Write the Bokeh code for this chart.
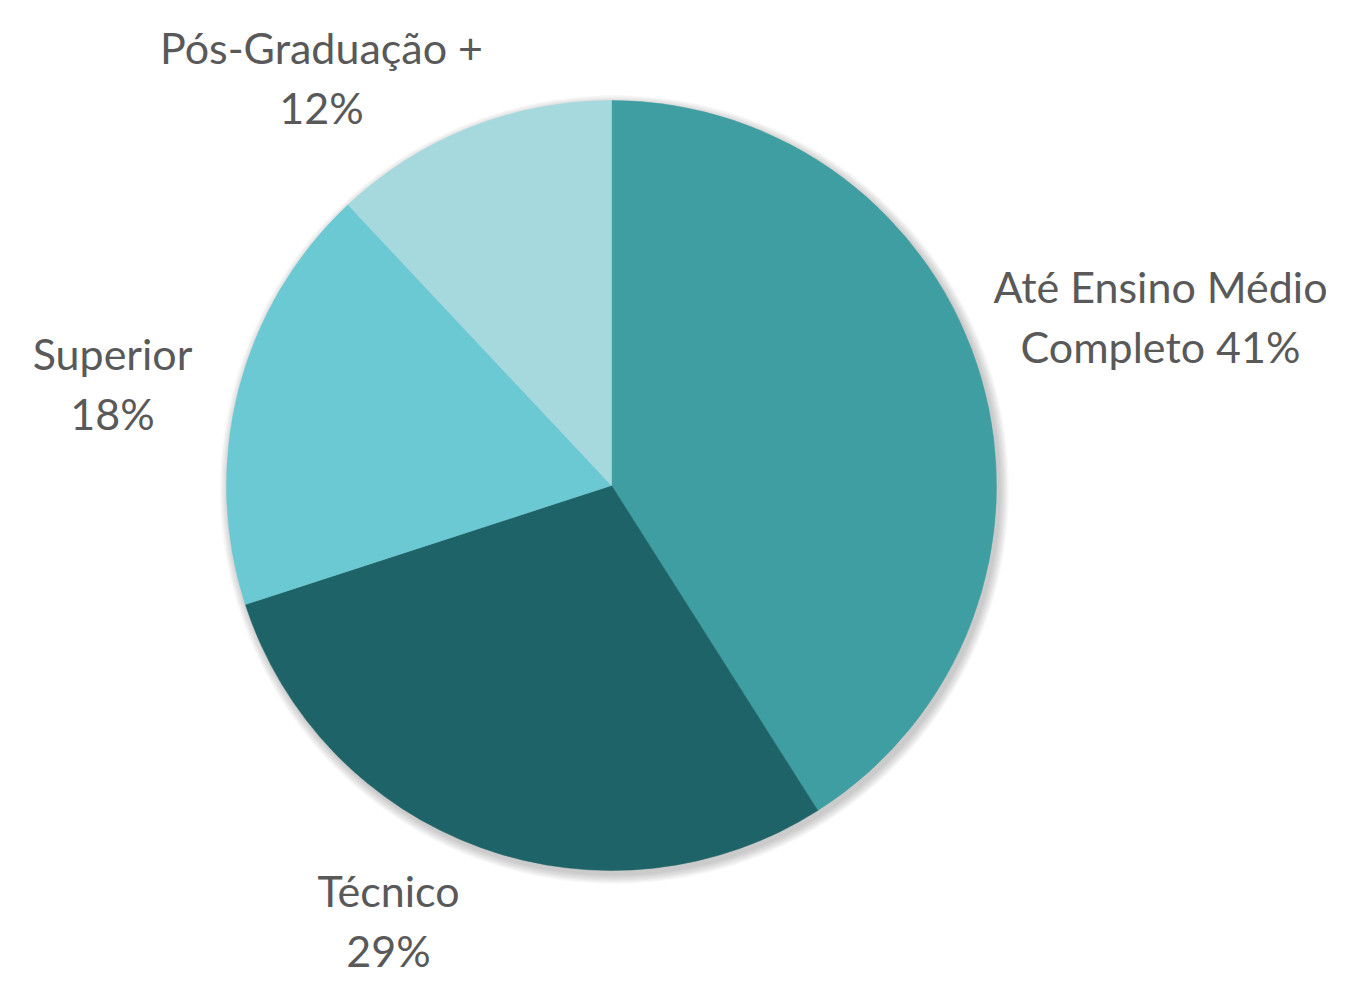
import math
from bokeh.plotting import figure
from bokeh.models import Range1d, ColumnDataSource
from bokeh.core.properties import value
from bokeh.embed import file_html
from bokeh.resources import INLINE

# ---- data ----
categories = ["Até Ensino Médio\nCompleto", "Técnico", "Superior", "Pós-Graduação +"]
percents = [41, 29, 18, 12]
colors = ["#3E9EA2", "#1E6367", "#6BC9D3", "#A5D9DE"]

# ---- layout (pixel coords, y downward) ----
W, H = 1332, 977
cx, cy_px, R = 611, 485, 385
label_px = [(1160, 316), (388, 920), (112, 383), (321, 77)]

def fy(py):
    return H - py

p = figure(width=W, height=H, output_backend="svg", toolbar_location=None,
           x_range=Range1d(0, W), y_range=Range1d(0, H), min_border=0)
p.axis.visible = False
p.grid.visible = False
p.outline_line_color = None
p.background_fill_color = "white"

cy = fy(cy_px)

# soft shadow
for k in range(8):
    p.circle(x=[cx + 3], y=[cy - 4], radius=R + 1 + k * 1.2, fill_color="#404040",
             fill_alpha=0.035, line_color=None)

total = sum(percents)
starts, ends = [], []
cum = 0
for v in percents:
    starts.append(math.pi / 2 - 2 * math.pi * cum / total)
    cum += v
    ends.append(math.pi / 2 - 2 * math.pi * cum / total)

src = ColumnDataSource(dict(start=starts, end=ends, color=colors))
p.wedge(x=cx, y=cy, radius=R, start_angle="start", end_angle="end", direction="clock",
        fill_color="color", line_color="color", line_width=0.5, source=src)

labels = []
for c, v in zip(categories, percents):
    sep = " " if "\n" in c else "\n"
    labels.append(f"{c}{sep}{v}%")

lsrc = ColumnDataSource(dict(x=[q[0] for q in label_px], y=[fy(q[1]) for q in label_px], text=labels))
p.text(x="x", y="y", text="text", source=lsrc, text_font=value("Lato"), text_font_size="43px",
       text_color="#595959", text_align="center", text_baseline="middle", text_line_height=1.17)

open("out.html", "w").write(file_html(p, INLINE))
